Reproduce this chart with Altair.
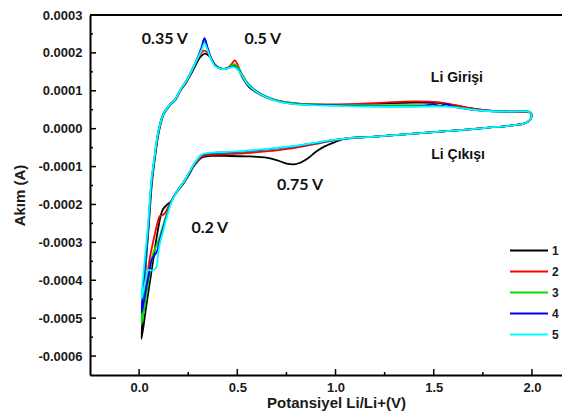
import altair as alt
import pandas as pd

# ---------------- data ----------------
CYCLES = ["1", "2", "3", "4", "5"]
COLORS = ["#000000", "#ff0000", "#00e000", "#0000ff", "#00ffff"]

# shared start of the cathodic scan (2.0 V -> 1.05 V), all cycles
HI_X = [2.000, 1.992, 1.975, 1.955, 1.92, 1.87, 1.78, 1.65, 1.50, 1.35, 1.20, 1.05]
HI_Y = [0.36e-4, 0.24e-4, 0.17e-4, 0.13e-4, 0.10e-4, 0.07e-4, 0.03e-4, -0.03e-4,
        -0.09e-4, -0.15e-4, -0.21e-4, -0.26e-4]

# cycle 1 (black)
C1_LOW_X = [0.99, 0.94, 0.90, 0.86, 0.82, 0.79, 0.75, 0.70, 0.64, 0.55, 0.45, 0.36, 0.32,
            0.295, 0.275, 0.25, 0.225, 0.20, 0.18, 0.165, 0.14, 0.122, 0.110, 0.090,
            0.065, 0.040, 0.012]
C1_LOW_Y = [-0.37e-4, -0.48e-4, -0.61e-4, -0.78e-4, -0.90e-4, -0.94e-4, -0.92e-4, -0.83e-4,
            -0.76e-4, -0.73e-4, -0.72e-4, -0.72e-4, -0.76e-4, -0.88e-4, -1.02e-4, -1.25e-4,
            -1.45e-4, -1.62e-4, -1.76e-4, -1.90e-4, -2.02e-4, -2.12e-4, -2.30e-4, -2.85e-4,
            -3.70e-4, -4.55e-4, -5.55e-4]
C1_UP_X = [0.025, 0.038, 0.050, 0.065, 0.082, 0.100, 0.125, 0.158, 0.185, 0.21, 0.24, 0.265,
           0.29, 0.31, 0.335, 0.36, 0.385, 0.41, 0.43, 0.45, 0.47, 0.487, 0.505, 0.53, 0.56,
           0.60, 0.65, 0.70, 0.80, 0.95, 1.10, 1.25, 1.40, 1.52, 1.60, 1.70, 1.80, 1.90,
           1.97, 1.992, 2.000]
C1_UP_Y = [-4.30e-4, -3.30e-4, -2.50e-4, -1.45e-4, -0.72e-4, -0.10e-4, 0.37e-4, 0.63e-4,
           0.76e-4, 1.00e-4, 1.22e-4, 1.45e-4, 1.70e-4, 1.88e-4, 1.98e-4, 1.90e-4, 1.70e-4,
           1.60e-4, 1.57e-4, 1.60e-4, 1.64e-4, 1.66e-4, 1.56e-4, 1.32e-4, 1.10e-4, 0.95e-4,
           0.82e-4, 0.74e-4, 0.66e-4, 0.63e-4, 0.64e-4, 0.67e-4, 0.69e-4, 0.68e-4, 0.62e-4,
           0.53e-4, 0.47e-4, 0.45e-4, 0.45e-4, 0.42e-4, 0.36e-4]

# cycle 2 (red)
C2_LOW_X = [0.98, 0.90, 0.80, 0.70, 0.60, 0.50, 0.42, 0.36, 0.32, 0.295, 0.275, 0.25, 0.225,
            0.20, 0.18, 0.165, 0.145, 0.13, 0.115, 0.105, 0.097, 0.08, 0.065, 0.055, 0.035,
            0.012]
C2_LOW_Y = [-0.32e-4, -0.40e-4, -0.50e-4, -0.57e-4, -0.62e-4, -0.66e-4, -0.68e-4, -0.69e-4,
            -0.73e-4, -0.86e-4, -1.00e-4, -1.23e-4, -1.43e-4, -1.60e-4, -1.76e-4, -1.90e-4,
            -2.10e-4, -2.24e-4, -2.29e-4, -2.31e-4, -2.42e-4, -2.78e-4, -3.15e-4, -3.40e-4,
            -4.15e-4, -5.00e-4]
C2_UP_X = [0.028, 0.046, 0.063, 0.080, 0.097, 0.122, 0.156, 0.182, 0.21, 0.24, 0.265, 0.29,
           0.31, 0.33, 0.35, 0.37, 0.39, 0.41, 0.43, 0.45, 0.47, 0.487, 0.50, 0.52, 0.545,
           0.57, 0.60, 0.65, 0.70, 0.80, 0.95, 1.10, 1.25, 1.40, 1.52, 1.60, 1.70, 1.80,
           1.90, 1.97, 1.992, 2.000]
C2_UP_Y = [-3.85e-4, -2.64e-4, -1.42e-4, -0.72e-4, -0.11e-4, 0.37e-4, 0.63e-4, 0.76e-4,
           1.00e-4, 1.24e-4, 1.50e-4, 1.76e-4, 1.96e-4, 2.06e-4, 2.00e-4, 1.82e-4, 1.66e-4,
           1.59e-4, 1.57e-4, 1.60e-4, 1.70e-4, 1.80e-4, 1.70e-4, 1.47e-4, 1.25e-4, 1.10e-4,
           0.97e-4, 0.83e-4, 0.75e-4, 0.67e-4, 0.64e-4, 0.65e-4, 0.69e-4, 0.72e-4, 0.70e-4,
           0.63e-4, 0.53e-4, 0.47e-4, 0.45e-4, 0.45e-4, 0.42e-4, 0.36e-4]

# cycle 3 (green)
C3_LOW_X = [0.98, 0.90, 0.80, 0.70, 0.60, 0.50, 0.42, 0.36, 0.32, 0.295, 0.275, 0.25, 0.225,
            0.20, 0.18, 0.165, 0.145, 0.125, 0.105, 0.097, 0.085, 0.071, 0.06, 0.04, 0.012]
C3_LOW_Y = [-0.31e-4, -0.38e-4, -0.46e-4, -0.52e-4, -0.57e-4, -0.61e-4, -0.63e-4, -0.65e-4,
            -0.69e-4, -0.83e-4, -0.98e-4, -1.21e-4, -1.42e-4, -1.60e-4, -1.76e-4, -1.92e-4,
            -2.18e-4, -2.50e-4, -2.85e-4, -2.98e-4, -3.12e-4, -3.29e-4, -3.60e-4, -4.30e-4,
            -5.16e-4]
C3_UP_X = [0.028, 0.046, 0.063, 0.080, 0.097, 0.122, 0.156, 0.182, 0.21, 0.24, 0.265, 0.285,
           0.302, 0.318, 0.333, 0.348, 0.365, 0.385, 0.41, 0.43, 0.45, 0.47, 0.487, 0.505,
           0.525, 0.55, 0.58, 0.62, 0.67, 0.72, 0.80, 0.95, 1.10, 1.25, 1.40, 1.52, 1.60,
           1.70, 1.80, 1.90, 1.97, 1.992, 2.000]
C3_UP_Y = [-3.95e-4, -2.64e-4, -1.42e-4, -0.72e-4, -0.11e-4, 0.37e-4, 0.63e-4, 0.76e-4,
           1.02e-4, 1.26e-4, 1.50e-4, 1.72e-4, 1.92e-4, 2.12e-4, 2.32e-4, 2.12e-4, 1.88e-4,
           1.68e-4, 1.60e-4, 1.58e-4, 1.61e-4, 1.66e-4, 1.70e-4, 1.60e-4, 1.42e-4, 1.22e-4,
           1.06e-4, 0.92e-4, 0.80e-4, 0.72e-4, 0.66e-4, 0.63e-4, 0.62e-4, 0.62e-4, 0.62e-4,
           0.62e-4, 0.58e-4, 0.50e-4, 0.46e-4, 0.45e-4, 0.46e-4, 0.43e-4, 0.36e-4]

# cycle 4 (blue)
C4_LOW_X = [0.98, 0.90, 0.80, 0.70, 0.60, 0.50, 0.42, 0.36, 0.32, 0.295, 0.275, 0.25, 0.225,
            0.20, 0.18, 0.165, 0.145, 0.125, 0.105, 0.09, 0.08, 0.063, 0.055, 0.035, 0.012]
C4_LOW_Y = [-0.31e-4, -0.38e-4, -0.46e-4, -0.52e-4, -0.57e-4, -0.61e-4, -0.63e-4, -0.65e-4,
            -0.69e-4, -0.83e-4, -0.98e-4, -1.21e-4, -1.42e-4, -1.60e-4, -1.76e-4, -1.92e-4,
            -2.22e-4, -2.58e-4, -2.95e-4, -3.25e-4, -3.33e-4, -3.46e-4, -3.68e-4, -4.25e-4,
            -4.86e-4]
C4_UP_X = [0.028, 0.046, 0.063, 0.080, 0.097, 0.122, 0.156, 0.182, 0.21, 0.24, 0.265, 0.285,
           0.302, 0.318, 0.333, 0.348, 0.365, 0.385, 0.41, 0.43, 0.45, 0.47, 0.487, 0.505,
           0.525, 0.55, 0.58, 0.62, 0.67, 0.72, 0.80, 0.95, 1.10, 1.25, 1.40, 1.46, 1.50,
           1.53, 1.56, 1.60, 1.70, 1.80, 1.90, 1.97, 1.992, 2.000]
C4_UP_Y = [-3.75e-4, -2.64e-4, -1.42e-4, -0.72e-4, -0.11e-4, 0.37e-4, 0.63e-4, 0.76e-4,
           1.02e-4, 1.26e-4, 1.50e-4, 1.72e-4, 1.92e-4, 2.15e-4, 2.39e-4, 2.15e-4, 1.88e-4,
           1.68e-4, 1.60e-4, 1.58e-4, 1.60e-4, 1.63e-4, 1.63e-4, 1.55e-4, 1.40e-4, 1.20e-4,
           1.05e-4, 0.91e-4, 0.79e-4, 0.71e-4, 0.65e-4, 0.62e-4, 0.60e-4, 0.59e-4, 0.59e-4,
           0.61e-4, 0.65e-4, 0.59e-4, 0.65e-4, 0.58e-4, 0.50e-4, 0.46e-4, 0.45e-4, 0.46e-4,
           0.43e-4, 0.36e-4]

# cycle 5 (cyan)
C5_LOW_X = [0.98, 0.90, 0.80, 0.70, 0.60, 0.50, 0.42, 0.36, 0.32, 0.295, 0.275, 0.25, 0.225,
            0.20, 0.18, 0.165, 0.145, 0.125, 0.105, 0.095, 0.089, 0.075, 0.06, 0.046, 0.035,
            0.012]
C5_LOW_Y = [-0.30e-4, -0.37e-4, -0.45e-4, -0.51e-4, -0.56e-4, -0.60e-4, -0.62e-4, -0.64e-4,
            -0.68e-4, -0.82e-4, -0.97e-4, -1.20e-4, -1.42e-4, -1.60e-4, -1.77e-4, -1.94e-4,
            -2.25e-4, -2.65e-4, -3.05e-4, -3.40e-4, -3.64e-4, -3.73e-4, -3.74e-4, -3.73e-4,
            -3.95e-4, -4.50e-4]
C5_UP_X = [0.026, 0.044, 0.061, 0.078, 0.095, 0.120, 0.154, 0.182, 0.21, 0.24, 0.265, 0.285,
           0.302, 0.318, 0.333, 0.348, 0.365, 0.385, 0.41, 0.43, 0.45, 0.47, 0.487, 0.505,
           0.525, 0.55, 0.58, 0.62, 0.67, 0.72, 0.80, 0.95, 1.10, 1.25, 1.40, 1.52, 1.60,
           1.70, 1.80, 1.90, 1.97, 1.992, 2.000]
C5_UP_Y = [-3.60e-4, -2.64e-4, -1.45e-4, -0.75e-4, -0.15e-4, 0.34e-4, 0.62e-4, 0.76e-4,
           1.02e-4, 1.26e-4, 1.50e-4, 1.72e-4, 1.90e-4, 2.08e-4, 2.25e-4, 2.08e-4, 1.85e-4,
           1.66e-4, 1.59e-4, 1.57e-4, 1.59e-4, 1.62e-4, 1.62e-4, 1.54e-4, 1.39e-4, 1.19e-4,
           1.04e-4, 0.90e-4, 0.78e-4, 0.70e-4, 0.64e-4, 0.61e-4, 0.59e-4, 0.58e-4, 0.58e-4,
           0.59e-4, 0.57e-4, 0.50e-4, 0.46e-4, 0.45e-4, 0.46e-4, 0.43e-4, 0.36e-4]

# annotations
PEAK_TEXT = ["0.35 V", "0.5 V", "0.75 V", "0.2 V"]
PEAK_X = [0.131, 0.630, 0.819, 0.360]
PEAK_Y = [2.376e-4, 2.376e-4, -1.488e-4, -2.61e-4]
LI_TEXT = ["Li Girişi", "Li Çıkışı"]
LI_X = [1.618, 1.624]
LI_Y = [1.33e-4, -0.705e-4]

# axis ticks
X_MAJOR = [0.0, 0.5, 1.0, 1.5, 2.0]
X_MINOR = [0.25, 0.75, 1.25, 1.75]
Y_MAJOR = [0.0003, 0.0002, 0.0001, 0.0, -0.0001, -0.0002, -0.0003, -0.0004, -0.0005, -0.0006]
Y_MINOR = [0.00025, 0.00015, 0.00005, -0.00005, -0.00015, -0.00025, -0.00035, -0.00045,
           -0.00055]

X_DOMAIN = [-0.25, 2.153]
Y_DOMAIN = [-0.00065, 0.0003]

# ---------------- build table ----------------
cycle_parts = [
    ("1", C1_LOW_X, C1_LOW_Y, C1_UP_X, C1_UP_Y),
    ("2", C2_LOW_X, C2_LOW_Y, C2_UP_X, C2_UP_Y),
    ("3", C3_LOW_X, C3_LOW_Y, C3_UP_X, C3_UP_Y),
    ("4", C4_LOW_X, C4_LOW_Y, C4_UP_X, C4_UP_Y),
    ("5", C5_LOW_X, C5_LOW_Y, C5_UP_X, C5_UP_Y),
]
rows = []
for name, lx, ly, ux, uy in cycle_parts:
    xs = HI_X + lx + ux
    ys = HI_Y + ly + uy
    for i, (xv, yv) in enumerate(zip(xs, ys)):
        rows.append({"cycle": name, "i": i, "v": xv, "a": yv})
df = pd.DataFrame(rows)

W, H = 472, 360
FONT = "Liberation Sans"

x_scale = alt.Scale(domain=X_DOMAIN, nice=False, zero=False)
y_scale = alt.Scale(domain=Y_DOMAIN, nice=False, zero=False)

X_AXIS = alt.Axis(
    values=X_MAJOR, format=".1f", grid=False, ticks=False, tickSize=0,
    labelFont=FONT, labelFontWeight="bold", labelFontSize=13, labelColor="#1a1a1a",
    labelPadding=6, domainColor="black", domainWidth=2,
    title="Potansiyel Li/Li+(V)", titleFont=FONT, titleFontWeight="bold",
    titleFontSize=15, titleColor="#1a1a1a", titlePadding=1, titleX=246,
)
Y_AXIS = alt.Axis(
    values=Y_MAJOR, grid=False, ticks=False, tickSize=0,
    labelExpr="replace(format(datum.value, '.4f'), '\u2212', '-')",
    labelFont=FONT, labelFontWeight="bold", labelFontSize=13, labelColor="#1a1a1a",
    labelPadding=8, domainColor="black", domainWidth=2,
    title="Akım (A)", titleFont=FONT, titleFontWeight="bold",
    titleFontSize=15, titleColor="#1a1a1a", titlePadding=10,
)

X_ENC = alt.X("v:Q", scale=x_scale, axis=X_AXIS)
Y_ENC = alt.Y("a:Q", scale=y_scale, axis=Y_AXIS)

lines = alt.Chart(df).mark_line(strokeWidth=1.8, interpolate="catmull-rom", clip=True).encode(
    x=X_ENC,
    y=Y_ENC,
    color=alt.Color(
        "cycle:N",
        scale=alt.Scale(domain=CYCLES, range=COLORS),
        legend=alt.Legend(
            title=None, orient="none", legendX=419, legendY=229,
            symbolType="stroke", symbolSize=1444, symbolStrokeWidth=2,
            clipHeight=13, rowPadding=8, labelOffset=3, padding=0,
            labelFont=FONT, labelFontWeight="bold", labelFontSize=12,
            labelColor="#1a1a1a",
        ),
    ),
    order="i:Q",
)

frame_top = alt.Chart(pd.DataFrame({"a": [Y_DOMAIN[1]]})).mark_rule(
    color="black", strokeWidth=2).encode(y=Y_ENC, x=alt.value(0), x2=alt.value(W))

xt_major = alt.Chart(pd.DataFrame({"v": X_MAJOR})).mark_rule(color="black", strokeWidth=1.5).encode(
    x=X_ENC, y=alt.value(H), y2=alt.value(H - 6))
xt_minor = alt.Chart(pd.DataFrame({"v": X_MINOR})).mark_rule(color="black", strokeWidth=1.5).encode(
    x=X_ENC, y=alt.value(H), y2=alt.value(H - 3))
yt_major = alt.Chart(pd.DataFrame({"a": Y_MAJOR})).mark_rule(color="black", strokeWidth=1.5).encode(
    y=Y_ENC, x=alt.value(0), x2=alt.value(6))
yt_minor = alt.Chart(pd.DataFrame({"a": Y_MINOR})).mark_rule(color="black", strokeWidth=1.5).encode(
    y=Y_ENC, x=alt.value(0), x2=alt.value(3))

peaks = alt.Chart(pd.DataFrame({"v": PEAK_X, "a": PEAK_Y, "t": PEAK_TEXT})).mark_text(
    font="Lato", fontWeight="bold", fontSize=16, color="#111111", align="center",
    baseline="middle").encode(x=X_ENC, y=Y_ENC, text="t:N")
li = alt.Chart(pd.DataFrame({"v": LI_X, "a": LI_Y, "t": LI_TEXT})).mark_text(
    font=FONT, fontWeight="bold", fontSize=14, color="#111111", align="center",
    baseline="middle").encode(x=X_ENC, y=Y_ENC, text="t:N")

chart = alt.layer(lines, frame_top, xt_major, xt_minor, yt_major, yt_minor, peaks, li).properties(
    width=W, height=H,
    autosize=alt.AutoSizeParams(type="none"),
    padding={"left": 82, "top": 7, "right": 0, "bottom": 36},
    background="white",
).configure_view(strokeWidth=0)

chart.save("out.html", embed_options={"renderer": "svg", "actions": False})
